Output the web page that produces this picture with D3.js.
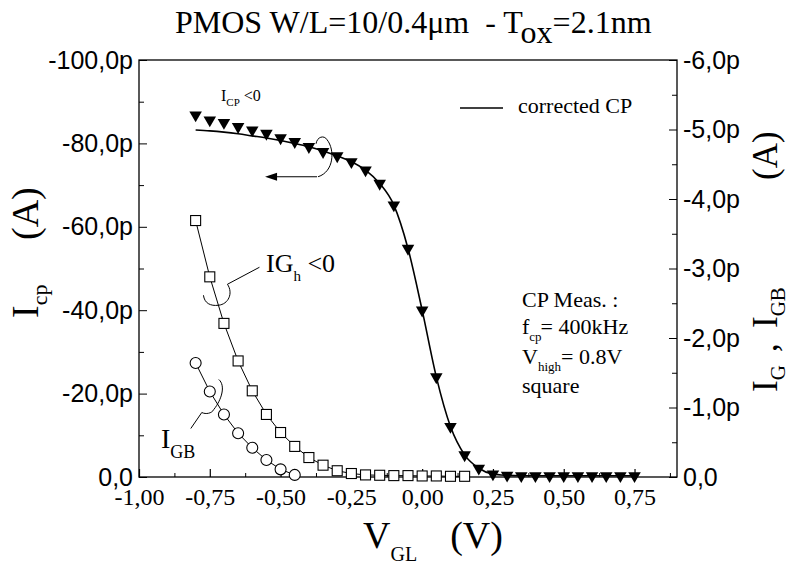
<!DOCTYPE html>
<html><head><meta charset="utf-8">
<script src="https://cdn.jsdelivr.net/npm/d3@7"></script>
<style>
html,body{margin:0;padding:0;background:#fff;}
svg text{white-space:pre;}
</style></head>
<body>
<svg id="chart" width="795" height="565"></svg>
<script>
// ---------------- data ----------------
const xTicks = [-1, -0.75, -0.5, -0.25, 0, 0.25, 0.5, 0.75];
const xTickLabels = ["-1,00", "-0,75", "-0,50", "-0,25", "0,00", "0,25", "0,50", "0,75"];
const xMinorTicks = [-0.875, -0.625, -0.375, -0.125, 0.125, 0.375, 0.625, 0.875];
const leftTicks = [0, -20, -40, -60, -80, -100];
const leftTickLabels = ["0,0", "-20,0p", "-40,0p", "-60,0p", "-80,0p", "-100,0p"];
const leftMinorTicks = [-10, -30, -50, -70, -90];
const rightTicks = [0, -1, -2, -3, -4, -5, -6];
const rightTickLabels = ["0,0", "-1,0p", "-2,0p", "-3,0p", "-4,0p", "-5,0p", "-6,0p"];
const rightMinorTicks = [-0.5, -1.5, -2.5, -3.5, -4.5, -5.5];

// I_cp (triangles, left axis, pA)
const icpV = [-0.80,-0.75,-0.70,-0.65,-0.60,-0.55,-0.50,-0.45,-0.40,-0.35,-0.30,-0.25,-0.20,-0.15,-0.10,-0.05,
              0.00,0.05,0.10,0.15,0.20,0.25,0.30,0.35,0.40,0.45,0.50,0.55,0.60,0.65,0.70,0.75];
const icpI = [-86.8,-85.6,-85.0,-84.0,-83.2,-82.4,-81.3,-80.4,-79.2,-78.0,-77.0,-75.6,-73.6,-70.4,-65.2,-54.8,
              -40.0,-24.0,-12.1,-5.3,-2.1,-0.7,-0.4,-0.3,-0.3,-0.3,-0.3,-0.3,-0.3,-0.3,-0.3,-0.3];
// corrected CP (solid line, left axis, pA) where it departs from the triangles
const corrV = [-0.80,-0.75,-0.70,-0.65,-0.60,-0.55,-0.50,-0.45,-0.40,-0.35];
const corrI = [-83.2,-83.0,-82.7,-82.3,-81.8,-81.3,-80.7,-80.0,-79.2,-78.2];
// IG_h (squares, right axis, pA)
const igV = [-0.80,-0.75,-0.70,-0.65,-0.60,-0.55,-0.50,-0.45,-0.40,-0.35,-0.30,-0.25,-0.20,-0.15,-0.10,-0.05,0.00,0.05,0.10,0.15];
const igI = [-3.69,-2.88,-2.21,-1.67,-1.24,-0.90,-0.64,-0.44,-0.28,-0.17,-0.09,-0.05,-0.03,-0.025,-0.02,-0.02,-0.015,-0.015,-0.01,-0.01];
// I_GB (circles, right axis, pA)
const igbV = [-0.80,-0.75,-0.70,-0.65,-0.60,-0.55,-0.50,-0.45];
const igbI = [-1.64,-1.23,-0.90,-0.63,-0.42,-0.245,-0.11,-0.03];

// ---------------- layout ----------------
const svg = d3.select("#chart");
const L = 139, R = 677, T = 60, B = 477;
const x = d3.scaleLinear().domain([-1, 0.9]).range([L, R]);
const yL = d3.scaleLinear().domain([0, -100]).range([B, T]);
const yR = d3.scaleLinear().domain([0, -6]).range([B, T]);
const serif = "Liberation Serif, Times New Roman, serif";
const sans = "Liberation Sans, Arial, sans-serif";

const g = svg.append("g");
g.append("rect").attr("x", L).attr("y", T).attr("width", R - L).attr("height", B - T)
  .attr("fill", "none").attr("stroke", "#000").attr("stroke-width", 1.3);

// bottom axis
const gx = g.append("g").attr("transform", `translate(0,${B})`)
  .call(d3.axisBottom(x).tickValues(xTicks).tickSize(-8).tickFormat((d, i) => xTickLabels[i]));
gx.select(".domain").remove();
gx.attr("font-family", serif);
gx.selectAll(".tick line").attr("stroke-width", 1.2);
gx.selectAll(".tick text").attr("font-family", serif).attr("font-size", 24).attr("fill", "#000")
  .attr("y", 28).attr("dy", 0);
const gxm = g.append("g").attr("transform", `translate(0,${B})`)
  .call(d3.axisBottom(x).tickValues(xMinorTicks).tickSize(-4).tickFormat(""));
gxm.select(".domain").remove();

// left axis
const gl = g.append("g").attr("transform", `translate(${L},0)`)
  .call(d3.axisLeft(yL).tickValues(leftTicks).tickSize(-8).tickFormat((d, i) => leftTickLabels[i]));
gl.select(".domain").remove();
gl.attr("font-family", sans);
gl.selectAll(".tick text").attr("font-family", sans).attr("font-size", 25).attr("fill", "#000").attr("x", -6);
const glm = g.append("g").attr("transform", `translate(${L},0)`)
  .call(d3.axisLeft(yL).tickValues(leftMinorTicks).tickSize(-5).tickFormat(""));
glm.select(".domain").remove();

// right axis
const gr = g.append("g").attr("transform", `translate(${R},0)`)
  .call(d3.axisRight(yR).tickValues(rightTicks).tickSize(-8).tickFormat((d, i) => rightTickLabels[i]));
gr.select(".domain").remove();
gr.attr("font-family", sans);
gr.selectAll(".tick text").attr("font-family", sans).attr("font-size", 25).attr("fill", "#000").attr("x", 6);
const grm = g.append("g").attr("transform", `translate(${R},0)`)
  .call(d3.axisRight(yR).tickValues(rightMinorTicks).tickSize(-5).tickFormat(""));
grm.select(".domain").remove();

// ---------------- series ----------------
const icp = icpV.map((v, i) => ({v, i: icpI[i]}));
const corr = corrV.map((v, i) => ({v, i: corrI[i]}));
const ig = igV.map((v, i) => ({v, i: igI[i]}));
const igb = igbV.map((v, i) => ({v, i: igbI[i]}));

const lineL = d3.line().x(d => x(d.v)).y(d => yL(d.i)).curve(d3.curveMonotoneX);
const lineR = d3.line().x(d => x(d.v)).y(d => yR(d.i));

const corrFull = corr.concat(icp.filter(d => d.v > -0.33));
g.append("path").attr("d", lineL(corrFull)).attr("fill", "none")
  .attr("stroke", "#000").attr("stroke-width", 1.6);

g.append("path").attr("d", lineR(ig)).attr("fill", "none").attr("stroke", "#000").attr("stroke-width", 1);
g.append("path").attr("d", lineR(igb)).attr("fill", "none").attr("stroke", "#000").attr("stroke-width", 1);

g.selectAll("rect.sq").data(ig).join("rect").attr("class", "sq")
  .attr("x", d => x(d.v) - 5).attr("y", d => yR(d.i) - 5).attr("width", 10).attr("height", 10)
  .attr("fill", "#fff").attr("stroke", "#000").attr("stroke-width", 1.1);
g.selectAll("circle.ci").data(igb).join("circle").attr("class", "ci")
  .attr("cx", d => x(d.v)).attr("cy", d => yR(d.i)).attr("r", 5.5)
  .attr("fill", "#fff").attr("stroke", "#000").attr("stroke-width", 1.1);

const tri = d3.symbol().type(d3.symbolTriangle).size(68);
g.selectAll("path.tri").data(icp).join("path").attr("class", "tri")
  .attr("d", tri).attr("transform", d => `translate(${x(d.v)},${yL(d.i)}) rotate(180)`)
  .attr("fill", "#000");

// ---------------- annotations ----------------
function txt(xp, yp, size, parts, family) {
  const t = svg.append("text").attr("x", xp).attr("y", yp).attr("font-family", family || serif)
    .attr("font-size", size).attr("fill", "#000");
  parts.forEach(p => {
    const s = t.append("tspan").text(p.t);
    if (p.size) s.attr("font-size", p.size);
    if (p.dy) s.attr("dy", p.dy);
    if (p.dx) s.attr("dx", p.dx);
    if (p.x !== undefined) s.attr("x", p.x);
  });
  return t;
}

// title
txt(175, 33, 32, [{t: "PMOS W/L=10/0.4\u03bcm  - T"}, {t: "ox", dy: 10}, {t: "=2.1nm", dy: -10}]);

// x-axis label
txt(363, 548, 38, [{t: "V"}, {t: "GL", size: 20, dy: 13}, {t: "(V)", dy: -13, dx: 33}]);

// left y label (rotated; local x = distance upward from y=318)
txt(0, 0, 38, [{t: "I"}, {t: "cp", size: 22, dy: 9}, {t: "(A)", dy: -9, x: 78}])
  .attr("transform", "translate(38,318) rotate(-90)");

// right y label (rotated; local x = distance upward from y=392)
txt(0, 0, 35, [{t: "I"}, {t: "G", size: 21, dy: 8}, {t: ",", dy: -8, x: 40}, {t: "I", x: 64},
               {t: "GB", size: 21, dy: 8}, {t: "(A)", dy: -8, x: 212}])
  .attr("transform", "translate(777,392) rotate(-90)");

// I_CP < 0
txt(221, 101, 16, [{t: "I"}, {t: "CP", size: 11, dy: 5}, {t: " <0", dy: -5}]);
const a1 = [x(-0.35), yL(-78)];
svg.append("path")
  .attr("d", `M${a1[0]-7},${a1[1]-8} C${a1[0]-6},${a1[1]-15} ${a1[0]+1},${a1[1]-17} ${a1[0]+4},${a1[1]-12}` +
             ` C${a1[0]+12},${a1[1]-2} ${a1[0]+11},${a1[1]+20} ${a1[0]-5},${a1[1]+25}`)
  .attr("fill", "none").attr("stroke", "#000").attr("stroke-width", 1);
svg.append("line").attr("x1", a1[0] - 6).attr("y1", a1[1] + 25).attr("x2", a1[0] - 50).attr("y2", a1[1] + 25)
  .attr("stroke", "#000").attr("stroke-width", 1.2);
svg.append("path")
  .attr("d", `M${a1[0]-58},${a1[1]+25} L${a1[0]-46},${a1[1]+21} L${a1[0]-46},${a1[1]+29} Z`).attr("fill", "#000");

// IG_h <0
txt(266, 272, 26, [{t: "IG"}, {t: "h", size: 15, dy: 9}, {t: " <0", dy: -9}]);
const a2 = [x(-0.73), yR(-2.5)];
svg.append("path")
  .attr("d", `M${a2[0]+44},${a2[1]-36} L${a2[0]+12},${a2[1]-19}` +
             ` C${a2[0]+18},${a2[1]-10} ${a2[0]+13},${a2[1]+1} ${a2[0]+3},${a2[1]+2}` +
             ` C${a2[0]-5},${a2[1]+3} ${a2[0]-11},${a2[1]} ${a2[0]-12},${a2[1]-8}`)
  .attr("fill", "none").attr("stroke", "#000").attr("stroke-width", 1);

// I_GB
txt(161, 448, 28, [{t: "I"}, {t: "GB", size: 18, dy: 10}]);
const a3 = [x(-0.75), yR(-1.23)];
svg.append("path")
  .attr("d", `M${a3[0]-19},${a3[1]+37} L${a3[0]-8},${a3[1]+21}` +
             ` C${a3[0]-4},${a3[1]+23} ${a3[0]+2},${a3[1]+22} ${a3[0]+4},${a3[1]+18}` +
             ` C${a3[0]+12},${a3[1]+8} ${a3[0]+16},${a3[1]-6} ${a3[0]+9},${a3[1]-12}`)
  .attr("fill", "none").attr("stroke", "#000").attr("stroke-width", 1);

// legend: corrected CP
svg.append("line").attr("x1", 460).attr("x2", 503).attr("y1", 108).attr("y2", 108)
  .attr("stroke", "#000").attr("stroke-width", 1.3);
txt(518, 113, 22, [{t: "corrected CP"}]);

// CP measurement block
txt(522, 307, 22, [{t: "CP Meas. :"}]);
txt(522, 334, 22, [{t: "f"}, {t: "cp", size: 13, dy: 7}, {t: "= 400kHz", dy: -7, dx: -1}]);
txt(522, 364, 22, [{t: "V"}, {t: "high", size: 13, dy: 7}, {t: "= 0.8V", dy: -7}]);
txt(522, 393, 22, [{t: "square"}]);
</script>
</body></html>
